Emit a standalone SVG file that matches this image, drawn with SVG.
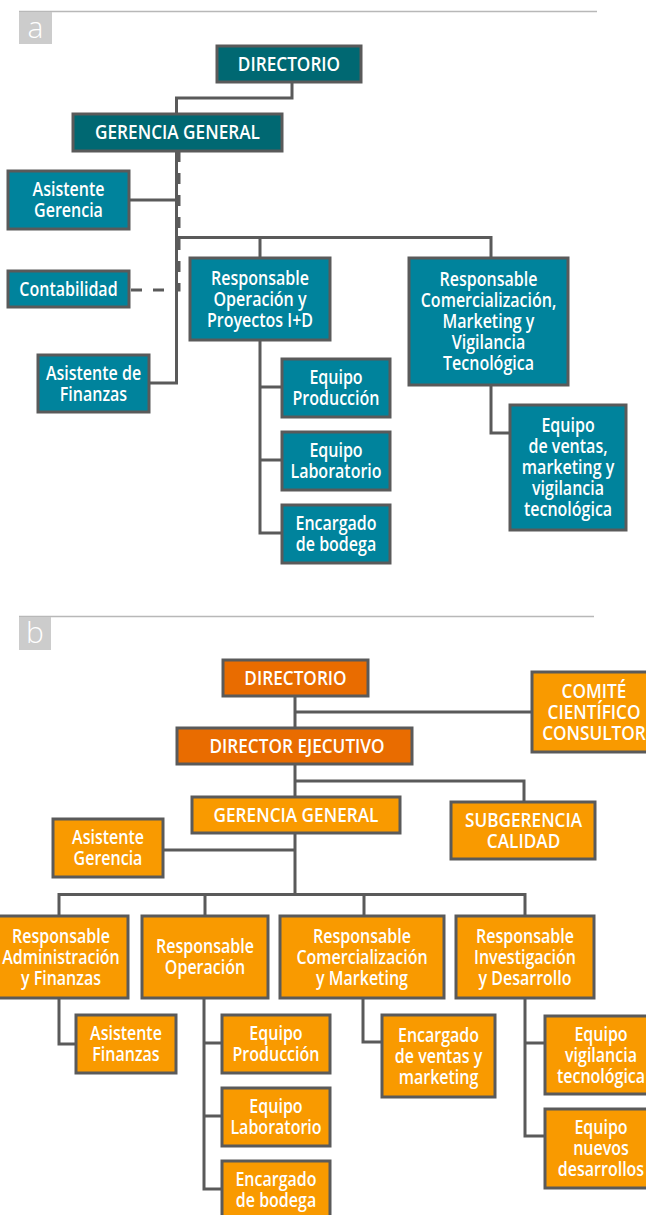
<svg xmlns="http://www.w3.org/2000/svg" width="646" height="1215" viewBox="0 0 646 1215">
<style>
.bx{stroke:#5a5a5a;stroke-width:3}
.dk{fill:#006872}
.lt{fill:#00839C}
.od{fill:#E96C00}
.ol{fill:#F99A00}
text.t{font-family:"Open Sans","Liberation Sans",sans-serif;font-size:20px;font-weight:600;fill:#fff;text-anchor:middle;transform-box:fill-box;transform-origin:center;transform:scaleX(0.8)}
text.t.u{transform:scaleX(0.86)}
.lab{font-family:"Open Sans","Liberation Sans",sans-serif;font-size:30px;font-weight:300;fill:#fff;text-anchor:middle}
.c{fill:none;stroke:#5a5a5a;stroke-width:3}
.d{fill:none;stroke:#5a5a5a;stroke-width:3;stroke-dasharray:11 11}
.rule{stroke:#b8b8b8;stroke-width:1.5}
</style>
<rect width="646" height="1215" fill="#fff"/>
<g id="panel-labels">
<line class="rule" x1="19" y1="11.5" x2="597" y2="11.5"/>
<rect x="19" y="12" width="33" height="32" fill="#cccccc"/>
<text class="lab" x="35.5" y="38">a</text>
<line class="rule" x1="19" y1="616.5" x2="594" y2="616.5"/>
<rect x="19" y="617" width="32" height="33" fill="#cccccc"/>
<text class="lab" x="35" y="643">b</text>
</g>
<g id="connectors">
<path class="c" d="M292,82 V98 H176.5 V114"/>
<path class="c" d="M176.5,151 V383 H150"/>
<path class="c" d="M129,200 H176.5"/>
<path class="d" d="M131,290 H179 V151"/>
<path class="c" d="M176.5,237.5 H491 V258 M260,237.5 V258"/>
<path class="c" d="M260,340 V533 H282 M260,387 H282 M260,460 H282"/>
<path class="c" d="M491,385 V433 H510"/>
<path class="c" d="M295,696 V728 M295,712 H532"/>
<path class="c" d="M295,764 V797 M295,781 H524 V802"/>
<path class="c" d="M295,833 V894.5 M163,850 H295"/>
<path class="c" d="M59,916 V894.5 H525 V916 M205,894.5 V916 M364,894.5 V916"/>
<path class="c" d="M59,998 V1044 H76"/>
<path class="c" d="M204,998 V1189 H222 M204,1043 H222 M204,1116 H222"/>
<path class="c" d="M363,998 V1042 H382"/>
<path class="c" d="M525,998 V1136 H545 M525,1043 H545"/>
</g>
<g id="a-directorio"><rect class="bx dk" x="217" y="46" width="144" height="36"/><text class="t u" x="289" y="71">DIRECTORIO</text></g>
<g id="a-gerencia"><rect class="bx dk" x="73" y="114" width="209" height="37"/><text class="t u" x="177.5" y="139.5">GERENCIA GENERAL</text></g>
<g id="a-asistente-gerencia"><rect class="bx lt" x="8" y="171" width="121" height="58"/><text class="t" x="68.5" y="196.5"><tspan x="68.5">Asistente</tspan><tspan x="68.5" dy="21">Gerencia</tspan></text></g>
<g id="a-contabilidad"><rect class="bx lt" x="8" y="271" width="121" height="36"/><text class="t" x="68.5" y="296">Contabilidad</text></g>
<g id="a-asistente-finanzas"><rect class="bx lt" x="38" y="355" width="111" height="57"/><text class="t" x="93.5" y="380"><tspan x="93.5">Asistente de</tspan><tspan x="93.5" dy="21">Finanzas</tspan></text></g>
<g id="a-resp-operacion"><rect class="bx lt" x="190" y="258" width="140" height="82"/><text class="t" x="260" y="285"><tspan x="260">Responsable</tspan><tspan x="260" dy="21">Operación y</tspan><tspan x="260" dy="21">Proyectos I+D</tspan></text></g>
<g id="a-equipo-produccion"><rect class="bx lt" x="282" y="359" width="108" height="58"/><text class="t" x="336" y="384.5"><tspan x="336">Equipo</tspan><tspan x="336" dy="21">Producción</tspan></text></g>
<g id="a-equipo-laboratorio"><rect class="bx lt" x="282" y="432" width="108" height="58"/><text class="t" x="336" y="457.5"><tspan x="336">Equipo</tspan><tspan x="336" dy="21">Laboratorio</tspan></text></g>
<g id="a-encargado-bodega"><rect class="bx lt" x="282" y="505" width="108" height="58"/><text class="t" x="336" y="530.5"><tspan x="336">Encargado</tspan><tspan x="336" dy="21">de bodega</tspan></text></g>
<g id="a-resp-comercializacion"><rect class="bx lt" x="409" y="258" width="159" height="127"/><text class="t" x="488.5" y="286.5"><tspan x="488.5">Responsable</tspan><tspan x="488.5" dy="21">Comercialización,</tspan><tspan x="488.5" dy="21">Marketing y</tspan><tspan x="488.5" dy="21">Vigilancia</tspan><tspan x="488.5" dy="21">Tecnológica</tspan></text></g>
<g id="a-equipo-ventas"><rect class="bx lt" x="510" y="405" width="116" height="125"/><text class="t" x="568" y="432.5"><tspan x="568">Equipo</tspan><tspan x="568" dy="21">de ventas,</tspan><tspan x="568" dy="21">marketing y</tspan><tspan x="568" dy="21">vigilancia</tspan><tspan x="568" dy="21">tecnológica</tspan></text></g>
<g id="b-directorio"><rect class="bx od" x="223" y="660" width="145" height="36"/><text class="t u" x="295.5" y="685">DIRECTORIO</text></g>
<g id="b-comite"><rect class="bx ol" x="532" y="672" width="124" height="80"/><text class="t u" x="594" y="698"><tspan x="594">COMITÉ</tspan><tspan x="594" dy="21">CIENTÍFICO</tspan><tspan x="594" dy="21">CONSULTOR</tspan></text></g>
<g id="b-director-ejecutivo"><rect class="bx od" x="177" y="728" width="235" height="36"/><text class="t u" x="297" y="753">DIRECTOR EJECUTIVO</text></g>
<g id="b-gerencia"><rect class="bx ol" x="192" y="797" width="208" height="36"/><text class="t u" x="296" y="822">GERENCIA GENERAL</text></g>
<g id="b-subgerencia"><rect class="bx ol" x="451" y="802" width="144" height="57"/><text class="t u" x="523.5" y="827.5"><tspan x="523.5">SUBGERENCIA</tspan><tspan x="523.5" dy="21">CALIDAD</tspan></text></g>
<g id="b-asistente-gerencia"><rect class="bx ol" x="53" y="819" width="110" height="58"/><text class="t" x="108" y="844.5"><tspan x="108">Asistente</tspan><tspan x="108" dy="21">Gerencia</tspan></text></g>
<g id="b-resp-administracion"><rect class="bx ol" x="-7" y="916" width="135" height="82"/><text class="t" x="61" y="943"><tspan x="61">Responsable</tspan><tspan x="61" dy="21">Administración</tspan><tspan x="61" dy="21">y Finanzas</tspan></text></g>
<g id="b-resp-operacion"><rect class="bx ol" x="142" y="916" width="126" height="82"/><text class="t" x="205" y="953.5"><tspan x="205">Responsable</tspan><tspan x="205" dy="21">Operación</tspan></text></g>
<g id="b-resp-comercializacion"><rect class="bx ol" x="280" y="916" width="164" height="82"/><text class="t" x="362" y="943"><tspan x="362">Responsable</tspan><tspan x="362" dy="21">Comercialización</tspan><tspan x="362" dy="21">y Marketing</tspan></text></g>
<g id="b-resp-investigacion"><rect class="bx ol" x="456" y="916" width="138" height="82"/><text class="t" x="525" y="943"><tspan x="525">Responsable</tspan><tspan x="525" dy="21">Investigación</tspan><tspan x="525" dy="21">y Desarrollo</tspan></text></g>
<g id="b-asistente-finanzas"><rect class="bx ol" x="76" y="1015" width="100" height="58"/><text class="t" x="126" y="1040.5"><tspan x="126">Asistente</tspan><tspan x="126" dy="21">Finanzas</tspan></text></g>
<g id="b-equipo-produccion"><rect class="bx ol" x="222" y="1015" width="108" height="58"/><text class="t" x="276" y="1040.5"><tspan x="276">Equipo</tspan><tspan x="276" dy="21">Producción</tspan></text></g>
<g id="b-equipo-laboratorio"><rect class="bx ol" x="222" y="1088" width="108" height="58"/><text class="t" x="276" y="1113.5"><tspan x="276">Equipo</tspan><tspan x="276" dy="21">Laboratorio</tspan></text></g>
<g id="b-encargado-bodega"><rect class="bx ol" x="222" y="1161" width="108" height="57"/><text class="t" x="276" y="1186"><tspan x="276">Encargado</tspan><tspan x="276" dy="21">de bodega</tspan></text></g>
<g id="b-encargado-ventas"><rect class="bx ol" x="382" y="1015" width="113" height="82"/><text class="t" x="438.5" y="1042"><tspan x="438.5">Encargado</tspan><tspan x="438.5" dy="21">de ventas y</tspan><tspan x="438.5" dy="21">marketing</tspan></text></g>
<g id="b-equipo-vigilancia"><rect class="bx ol" x="545" y="1016" width="112" height="78"/><text class="t" x="601" y="1041"><tspan x="601">Equipo</tspan><tspan x="601" dy="21">vigilancia</tspan><tspan x="601" dy="21">tecnológica</tspan></text></g>
<g id="b-equipo-nuevos"><rect class="bx ol" x="545" y="1109" width="112" height="79"/><text class="t" x="601" y="1134.5"><tspan x="601">Equipo</tspan><tspan x="601" dy="21">nuevos</tspan><tspan x="601" dy="21">desarrollos</tspan></text></g>
</svg>
